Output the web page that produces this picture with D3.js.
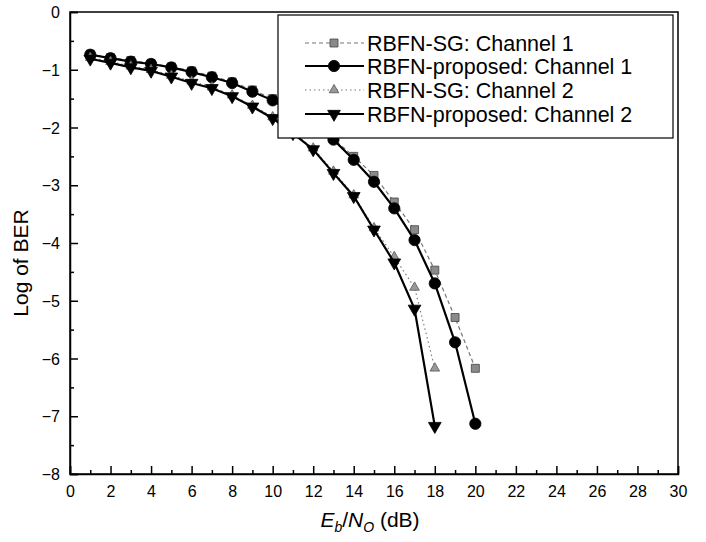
<!DOCTYPE html>
<html>
<head>
<meta charset="utf-8">
<script src="https://cdn.jsdelivr.net/npm/d3@7"></script>
<style>
    body { margin: 0; background: #fff; }
    svg { font-family: "Liberation Sans", Arial, sans-serif; }
</style>
</head>
<body>
<div id="chart"></div>
<script>
// Eb/No values (dB)
var snrCh1 = [1, 2, 3, 4, 5, 6, 7, 8, 9, 10, 11, 12, 13, 14, 15, 16, 17, 18, 19, 20];
var snrCh2 = [1, 2, 3, 4, 5, 6, 7, 8, 9, 10, 11, 12, 13, 14, 15, 16, 17, 18];

// log10 of BER
var sgCh1 = [-0.73, -0.79, -0.84, -0.89, -0.95, -1.02, -1.11, -1.21, -1.35, -1.50,
             -1.72, -1.96, -2.20, -2.50, -2.83, -3.29, -3.77, -4.47, -5.29, -6.17];
var propCh1 = [-0.74, -0.80, -0.86, -0.90, -0.96, -1.04, -1.13, -1.23, -1.38, -1.53,
               -1.75, -1.98, -2.21, -2.56, -2.94, -3.40, -3.95, -4.70, -5.72, -7.13];
var sgCh2 = [-0.79, -0.86, -0.94, -1.00, -1.10, -1.20, -1.30, -1.44, -1.62, -1.82,
             -2.08, -2.36, -2.76, -3.17, -3.74, -4.24, -4.77, -6.17];
var propCh2 = [-0.81, -0.88, -0.96, -1.02, -1.12, -1.23, -1.32, -1.46, -1.64, -1.84,
               -2.10, -2.38, -2.79, -3.19, -3.77, -4.34, -5.14, -7.17];

var seriesNames = ["RBFN-SG: Channel 1", "RBFN-proposed: Channel 1",
                   "RBFN-SG: Channel 2", "RBFN-proposed: Channel 2"];

var xTicks = d3.range(0, 31, 2);
var yTicks = d3.range(-8, 1, 1);

window.onload = function () {

    var width = 706, height = 542;
    var left = 70, right = 678, top = 12, bottom = 474;

    var svg = d3.select("#chart").append("svg")
        .attr("width", width)
        .attr("height", height);

    var xScale = d3.scaleLinear().domain([0, 30]).range([left, right]);
    var yScale = d3.scaleLinear().domain([-8, 0]).range([bottom, top]);

    // series styles
    var styles = [
        { x: snrCh1, y: sgCh1, stroke: "#777", width: 1.2, dash: "4,3",
          symbol: d3.symbolSquare, size: 64, fill: "#8a8a8a", edge: "#444", rotate: 0 },
        { x: snrCh1, y: propCh1, stroke: "#000", width: 2.2, dash: null,
          symbol: d3.symbolCircle, size: 100, fill: "#000", edge: "#000", rotate: 0 },
        { x: snrCh2, y: sgCh2, stroke: "#777", width: 1.1, dash: "1.5,3",
          symbol: d3.symbolTriangle, size: 40, fill: "#999", edge: "#555", rotate: 0 },
        { x: snrCh2, y: propCh2, stroke: "#000", width: 2.2, dash: null,
          symbol: d3.symbolTriangle, size: 70, fill: "#000", edge: "#000", rotate: 180 }
    ];

    var line = d3.line()
        .x(function (d) { return xScale(d[0]); })
        .y(function (d) { return yScale(d[1]); });

    styles.forEach(function (s) {
        var pts = s.x.map(function (v, i) { return [v, s.y[i]]; });

        svg.append("path")
            .datum(pts)
            .attr("fill", "none")
            .attr("stroke", s.stroke)
            .attr("stroke-width", s.width)
            .attr("stroke-dasharray", s.dash)
            .attr("d", line);

        svg.append("g").selectAll("path")
            .data(pts)
            .enter().append("path")
            .attr("d", d3.symbol().type(s.symbol).size(s.size))
            .attr("transform", function (d) {
                return "translate(" + xScale(d[0]) + "," + yScale(d[1]) + ") rotate(" + s.rotate + ")";
            })
            .attr("fill", s.fill)
            .attr("stroke", s.edge)
            .attr("stroke-width", 0.8);
    });

    // frame
    svg.append("rect")
        .attr("x", left).attr("y", top)
        .attr("width", right - left).attr("height", bottom - top)
        .attr("fill", "none").attr("stroke", "#000").attr("stroke-width", 1.5);

    // x axis, ticks pointing inward
    svg.append("g")
        .attr("transform", "translate(0," + bottom + ")")
        .call(d3.axisBottom(xScale).tickValues(xTicks).tickSize(-8).tickPadding(12));
    svg.append("g")
        .attr("transform", "translate(0," + bottom + ")")
        .call(d3.axisBottom(xScale).tickValues(d3.range(1, 30, 2)).tickSize(-4).tickFormat(""))
        .call(function (g) { g.select(".domain").remove(); });

    // y axis
    var yAxis = svg.append("g")
        .attr("transform", "translate(" + left + ",0)")
        .call(d3.axisLeft(yScale).tickValues(yTicks).tickSize(-8).tickPadding(10));
    svg.append("g")
        .attr("transform", "translate(" + left + ",0)")
        .call(d3.axisLeft(yScale).tickValues(d3.range(-7.5, 0, 1)).tickSize(-4).tickFormat(""))
        .call(function (g) { g.select(".domain").remove(); });

    svg.selectAll(".tick line").attr("stroke", "#000").attr("stroke-width", 1.5);
    svg.selectAll(".domain").attr("stroke", "#000").attr("stroke-width", 1.5);
    svg.selectAll(".tick text").attr("font-size", 16).attr("fill", "#000")
        .attr("font-family", "Liberation Sans, Arial, sans-serif");
    yAxis.selectAll(".tick text").attr("dy", "0.35em");

    // axis titles
    svg.append("text")
        .attr("transform", "translate(28," + ((top + bottom) / 2 + 20) + ") rotate(-90)")
        .attr("text-anchor", "middle")
        .attr("font-size", 21)
        .text("Log of BER");

    var xt = svg.append("text")
        .attr("x", (left + right) / 2 - 4)
        .attr("y", 527)
        .attr("text-anchor", "middle")
        .attr("font-size", 21);
    xt.append("tspan").attr("font-style", "italic").text("E");
    xt.append("tspan").attr("font-style", "italic").attr("font-size", 14).attr("dy", 5).text("b");
    xt.append("tspan").attr("dy", -5).text("/");
    xt.append("tspan").attr("font-style", "italic").text("N");
    xt.append("tspan").attr("font-style", "italic").attr("font-size", 14).attr("dy", 5).text("O");
    xt.append("tspan").attr("dy", -5).text(" (dB)");

    // legend
    var legend = svg.append("g");
    legend.append("rect")
        .attr("x", 278).attr("y", 15)
        .attr("width", 395).attr("height", 123)
        .attr("fill", "#fff").attr("stroke", "#000").attr("stroke-width", 1.2);

    var rowY = [43, 66, 90, 114];
    styles.forEach(function (s, i) {
        var g = legend.append("g").attr("transform", "translate(0," + rowY[i] + ")");
        g.append("line")
            .attr("x1", 305).attr("x2", 364)
            .attr("stroke", s.stroke)
            .attr("stroke-width", s.width)
            .attr("stroke-dasharray", s.dash);
        g.append("path")
            .attr("d", d3.symbol().type(s.symbol).size(s.size))
            .attr("transform", "translate(334,0) rotate(" + s.rotate + ")")
            .attr("fill", s.fill)
            .attr("stroke", s.edge)
            .attr("stroke-width", 0.8);
        g.append("text")
            .attr("x", 367)
            .attr("dy", "0.36em")
            .attr("font-size", 21.5)
            .text(seriesNames[i]);
    });
}
</script>
</body>
</html>
